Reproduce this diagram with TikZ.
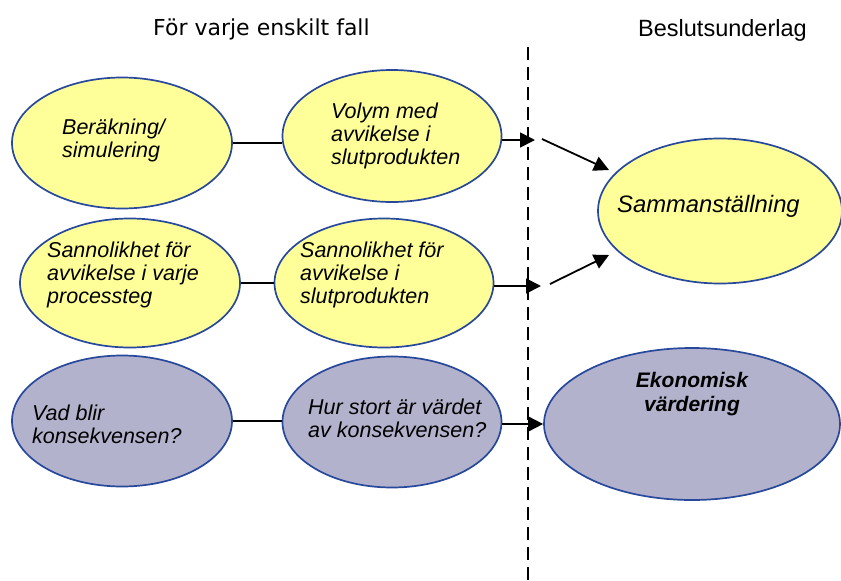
\documentclass[tikz,border=0pt]{standalone}
\usepackage{fontspec}
\setmainfont{Liberation Sans}
\newfontfamily\headfont{DejaVu Sans}
\usetikzlibrary{arrows.meta,shapes.geometric}
\definecolor{ellyellow}{RGB}{255,255,153}
\definecolor{ellviolet}{RGB}{178,178,204}
\definecolor{ellrim}{RGB}{40,72,156}

\begin{document}
\begin{tikzpicture}[x=1pt,y=-1pt,>={Triangle[length=15pt,width=15pt]},
		ell/.style={ellipse,draw=ellrim,line width=1.7pt,inner sep=0pt},
		eltext/.style={font=\itshape\fontsize{21.5}{23}\selectfont,align=left,inner sep=0pt,anchor=west},
		con/.style={line width=1.8pt}]
		%			\draw [help lines] (0,0) grid [step=50] (841,581);
		\useasboundingbox (0,0) rectangle (841,581);
		\node [font=\headfont\fontsize{22}{26}\selectfont, anchor=base west, inner sep=0pt] (fall) at (153,35) {För varje enskilt fall};
		\node [font=\fontsize{23.5}{26}\selectfont, anchor=base west, inner sep=0pt] (beslut) at (638,36) {Beslutsunderlag};
		\draw [line width=1.8pt, dash pattern=on 13pt off 7pt] (528,47) coordinate (divtop) -- (528,581) coordinate (divbot);
		\node [ell, fill=ellyellow, minimum width=220pt, minimum height=131pt] (calc) at (122,143) {};
		\node [ell, fill=ellyellow, minimum width=219pt, minimum height=132pt] (volym) at (392,136) {};
		\node [ell, fill=ellyellow, minimum width=244pt, minimum height=145pt] (samman) at (720,211) {};
		\node [ell, fill=ellyellow, minimum width=220pt, minimum height=129pt] (sannproc) at (130,283) {};
		\node [ell, fill=ellyellow, minimum width=219pt, minimum height=129pt] (sannslut) at (384,283) {};
		\node [ell, fill=ellviolet, minimum width=220pt, minimum height=131pt] (konsek) at (122,421) {};
		\node [ell, fill=ellviolet, minimum width=219pt, minimum height=131pt] (varde) at (392,422) {};
		\node [ell, fill=ellviolet, minimum width=296pt, minimum height=152pt] (ekon) at (692,424) {};
		\node [eltext] (calc-t) at (62,140) {Beräkning/\\simulering};
		\node [eltext] (volym-t) at (331,135.5) {Volym med\\avvikelse i\\slutprodukten};
		\node [eltext] (sannproc-t) at (47,274.5) {Sannolikhet för\\avvikelse i varje\\processteg};
		\node [eltext] (sannslut-t) at (300,274.5) {Sannolikhet för\\avvikelse i\\slutprodukten};
		\node [eltext] (konsek-t) at (32,424) {Vad blir\\konsekvensen?};
		\node [eltext] (varde-t) at (308,418) {Hur stort är värdet\\av konsekvensen?};
		\node [font=\bfseries\itshape\fontsize{21}{24}\selectfont, align=center, inner sep=0pt] (ekon-t) at (692,394.5) {Ekonomisk\\värdering};
		\node [font=\itshape\fontsize{23.8}{26}\selectfont, anchor=base west, inner sep=0pt] (samman-t) at (617,212) {Sammanställning};
		\coordinate (t1) at (535,140);
		\coordinate (t2) at (541,286);
		\coordinate (d1) at (542,139);
		\coordinate (s1) at (609,170);
		\coordinate (d2) at (550,284);
		\coordinate (s2) at (609,255);
		\draw [con] (calc.east) -- (calc.east -| volym.west);
		\draw [con] (sannproc.east) -- (sannslut.west);
		\draw [con] (konsek.east) -- (konsek.east -| varde.west);
		\draw [con, ->] (volym.east |- t1) -- (t1);
		\draw [con, ->] (sannslut.east |- t2) -- (t2);
		\draw [con, ->] (varde.east |- ekon.west) -- (ekon.west);
		\draw [con, ->] (d1) -- (s1);
		\draw [con, ->] (d2) -- (s2);
	\end{tikzpicture}
\end{document}
